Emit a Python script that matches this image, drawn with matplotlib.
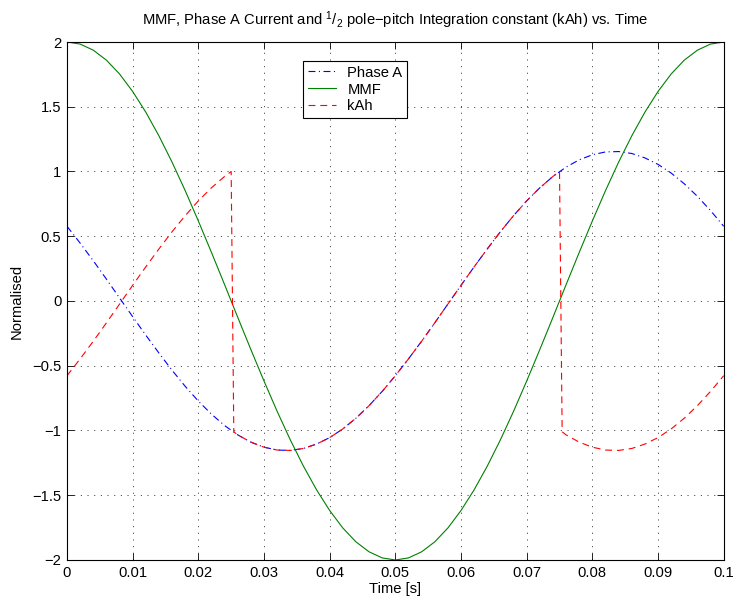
import matplotlib
matplotlib.use("Agg")
import matplotlib.pyplot as plt

plt.rcParams['font.family'] = ['Liberation Sans', 'DejaVu Sans']
plt.rcParams['mathtext.fontset'] = 'custom'
plt.rcParams['mathtext.rm'] = 'Liberation Sans'
plt.rcParams['mathtext.it'] = 'Liberation Sans:italic'
plt.rcParams['mathtext.bf'] = 'Liberation Sans:bold'
plt.rcParams['lines.scale_dashes'] = False

# ---- data ----
time = [0.000, 0.002, 0.004, 0.006, 0.008, 0.010, 0.012, 0.014, 0.016, 0.018,
        0.020, 0.022, 0.024, 0.026, 0.028, 0.030, 0.032, 0.034, 0.036, 0.038,
        0.040, 0.042, 0.044, 0.046, 0.048, 0.050, 0.052, 0.054, 0.056, 0.058,
        0.060, 0.062, 0.064, 0.066, 0.068, 0.070, 0.072, 0.074, 0.076, 0.078,
        0.080, 0.082, 0.084, 0.086, 0.088, 0.090, 0.092, 0.094, 0.096, 0.098,
        0.100]

mmf = [2.000, 1.984, 1.937, 1.860, 1.753, 1.618, 1.458, 1.275, 1.072, 0.852,
       0.618, 0.375, 0.126, -0.126, -0.375, -0.618, -0.852, -1.072, -1.275, -1.458,
       -1.618, -1.753, -1.860, -1.937, -1.984, -2.000, -1.984, -1.937, -1.860, -1.753,
       -1.618, -1.458, -1.275, -1.072, -0.852, -0.618, -0.375, -0.126, 0.126, 0.375,
       0.618, 0.852, 1.072, 1.275, 1.458, 1.618, 1.753, 1.860, 1.937, 1.984,
       2.000]

phase_a = [0.577, 0.447, 0.311, 0.169, 0.024, -0.121, -0.264, -0.402, -0.535, -0.659,
           -0.773, -0.874, -0.962, -1.034, -1.090, -1.129, -1.151, -1.154, -1.139, -1.105,
           -1.055, -0.988, -0.905, -0.808, -0.698, -0.577, -0.447, -0.311, -0.169, -0.024,
           0.121, 0.264, 0.402, 0.535, 0.659, 0.773, 0.874, 0.962, 1.034, 1.090,
           1.129, 1.151, 1.154, 1.139, 1.105, 1.055, 0.988, 0.905, 0.808, 0.698,
           0.577]

kah_time = [0.000, 0.002, 0.004, 0.006, 0.008, 0.010, 0.012, 0.014, 0.016, 0.018,
            0.020, 0.022, 0.024, 0.025, 0.0254,
            0.026, 0.028, 0.030, 0.032, 0.034, 0.036, 0.038, 0.040, 0.042, 0.044,
            0.046, 0.048, 0.050, 0.052, 0.054, 0.056, 0.058, 0.060, 0.062, 0.064,
            0.066, 0.068, 0.070, 0.072, 0.074, 0.075, 0.0754,
            0.076, 0.078, 0.080, 0.082, 0.084, 0.086, 0.088, 0.090, 0.092, 0.094,
            0.096, 0.098, 0.100]

kah = [-0.577, -0.447, -0.311, -0.169, -0.024, 0.121, 0.264, 0.402, 0.535, 0.659,
       0.773, 0.874, 0.962, 1.000, -1.010,
       -1.034, -1.090, -1.129, -1.151, -1.154, -1.139, -1.105, -1.055, -0.988, -0.905,
       -0.808, -0.698, -0.577, -0.447, -0.311, -0.169, -0.024, 0.121, 0.264, 0.402,
       0.535, 0.659, 0.773, 0.874, 0.962, 1.000, -1.010,
       -1.034, -1.090, -1.129, -1.151, -1.154, -1.139, -1.105, -1.055, -0.988, -0.905,
       -0.808, -0.698, -0.577]

xticks = [0, 0.01, 0.02, 0.03, 0.04, 0.05, 0.06, 0.07, 0.08, 0.09, 0.1]
xtick_labels = ['0', '0.01', '0.02', '0.03', '0.04', '0.05', '0.06', '0.07', '0.08', '0.09', '0.1']
yticks = [-2, -1.5, -1, -0.5, 0, 0.5, 1, 1.5, 2]
ytick_labels = ['\u22122', '\u22121.5', '\u22121', '\u22120.5', '0', '0.5', '1', '1.5', '2']

# ---- figure ----
fs = 10.6
fig = plt.figure(figsize=(7.33, 6.0), dpi=100)
ax = fig.add_axes([0.0914, 0.0667, 0.8959, 0.8633])

lw = 0.8
ax.plot(time, phase_a, color=(0, 0, 1), lw=lw, linestyle=(0, (5, 2.5, 0.8, 2.5)), label='Phase A')
ax.plot(time, mmf, color=(0, 0.5, 0), lw=lw, linestyle='-', label='MMF')
ax.plot(kah_time, kah, color=(1, 0, 0), lw=lw, linestyle=(0, (5, 3.5)), label='kAh')

ax.set_xlim(0, 0.1)
ax.set_ylim(-2, 2)
ax.set_xticks(xticks)
ax.set_xticklabels(xtick_labels)
ax.set_yticks(yticks)
ax.set_yticklabels(ytick_labels)

ax.tick_params(direction='in', length=5, width=0.6, top=True, right=True,
               labelsize=fs, pad=4, colors='black')
for s in ax.spines.values():
    s.set_linewidth(0.8)
    s.set_color('black')

ax.grid(True, color='black', linestyle=(0, (0.8, 4)), linewidth=0.5)

ax.set_xlabel('Time [s]', fontsize=fs, labelpad=2)
ax.set_ylabel('Normalised', fontsize=fs, labelpad=6)
ax.set_title('MMF, Phase A Current and $^1/_2$ pole\u2212pitch Integration constant (kAh) vs. Time',
             fontsize=fs, pad=12)

leg = ax.legend(loc='upper left', bbox_to_anchor=(0.3596, 0.963), borderaxespad=0,
                fancybox=False, framealpha=1, edgecolor='black', fontsize=fs,
                handlelength=1.9, handletextpad=0.8, labelspacing=0.2, borderpad=0.3)
leg.get_frame().set_linewidth(0.8)

fig.savefig('out.png', dpi=100)
